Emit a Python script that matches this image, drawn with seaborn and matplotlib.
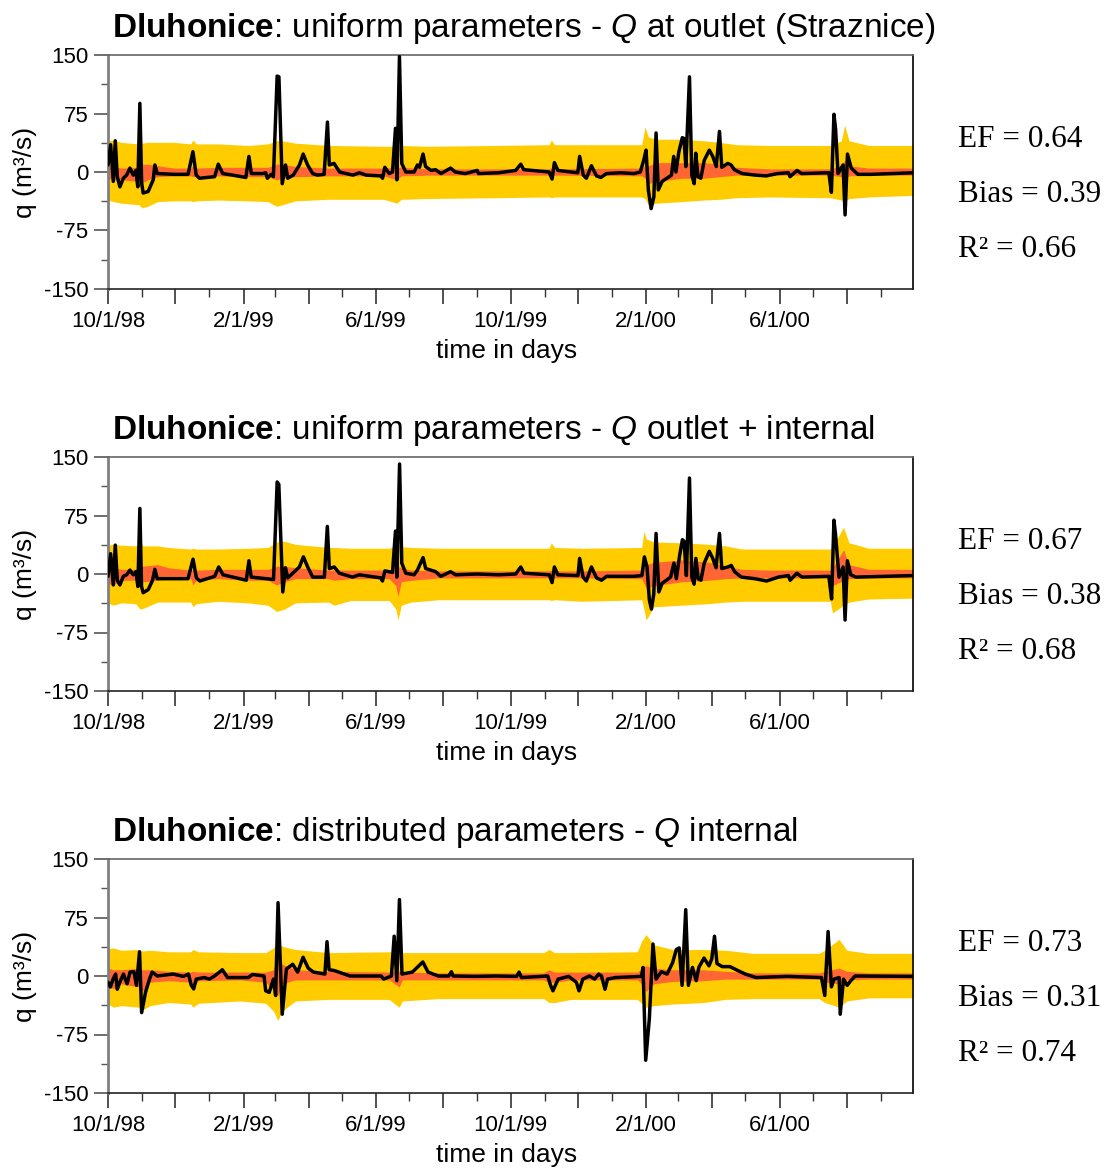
import numpy as np
import pandas as pd
import matplotlib
matplotlib.use("Agg")
import matplotlib.pyplot as plt
import matplotlib.dates as mdates
from matplotlib.ticker import MultipleLocator, FuncFormatter
import seaborn as sns

sns.set_style("ticks")
plt.rcParams["font.family"] = ["Liberation Sans", "DejaVu Sans"]
plt.rcParams["mathtext.fontset"] = "custom"
plt.rcParams["mathtext.rm"] = "Liberation Sans"
plt.rcParams["mathtext.bf"] = "Liberation Sans:bold"
plt.rcParams["mathtext.it"] = "Liberation Sans:italic"
for k in ["text.color", "axes.labelcolor", "xtick.color", "ytick.color"]:
    plt.rcParams[k] = "black"

START = pd.Timestamp("1998-10-01")
END = pd.Timestamp("2000-09-30")

# ---------------- Panel 1 -----------------
p1_title = r"$\bf{Dluhonice}$: uniform parameters - $\it{Q}$ at outlet (Straznice)"
p1_stats = ["EF = 0.64", "Bias = 0.39", "R² = 0.66"]
p1_line_day = [0, 2.4, 4.8, 6.6, 8.4, 10.8, 13.9, 16.9, 19.9, 22.9, 25.3, 27, 28.9, 30.5, 31.9, 36.4, 41, 42.5, 44.6,
               60, 72.6, 77, 80, 83, 96.7, 100, 104, 113, 125, 127.8, 130, 140, 143, 144.5, 148, 150, 153.4, 155, 158,
               161, 163, 168, 173.6, 177, 181, 185.6, 190, 196, 199, 200.7, 205, 210, 222, 228, 234, 247.4, 249, 251,
               255, 258, 260.7, 262, 264.3, 266.4, 270, 277.6, 280.6, 282.5, 285.7, 288, 293, 297, 302, 310.7, 315,
               324, 334.8, 336, 354, 369.7, 374.3, 377, 400, 402.7, 404.8, 408, 426, 427.7, 431, 433.8, 438.4, 443,
               447, 452, 465, 477, 482.7, 485.8, 487.9, 490, 492.5, 495, 497, 499, 502.6, 509, 511, 513, 515, 517.7,
               520.8, 522.3, 524, 527.3, 529.4, 531.6, 533, 535, 537.6, 540.7, 545.3, 548.4, 551.6, 554.5, 556.6, 562,
               565, 568, 575, 587, 597, 607, 617, 618.5, 624.8, 629, 653.7, 656, 658.3, 659.8, 662, 666.6, 668.4,
               670.6, 674, 680, 692, 730]
p1_line_q = [9, 35, -12, 40, -6, -19, -8, -4, 5, -4, 2, -19, 88, -14, -27, -25, -10, 9, -2,
             -3, -3, 26, -4, -8, -6, 10, -2, -4, -7, 20, -2, -2, -1, -8, -3, -6, 123, 122, -15,
             9, -8, -4, 9, 23, 9, -2, -4, -3, 64, 9, 11, 0, -4, -1, -4, -5, -8, 6,
             -2, 0, 56, -10, 148, 11, 0, 0, 9, 6, 23, 7, 2, 3, -2, 5, 0,
             -2, 2, -2, -1, 2, 10, 3, 0, -9, 12, 2, -1, 20, -4, -8, 8, -5,
             -7, -2, -1, -2, 0, 15, 28, -23, -47, -32, 50, -23, -12, -6, -4, 20, 0, 26,
             44, 43, 7, 122, -4, -15, 24, -6, -8, 15, 28, 20, 7, 52, 6, 11,
             9, 3, -2, -4, -5, -2, -1, -6, 2, -2, -1, -26, 74, 55, -2, 9, -55,
             23, 5, -3, -3, -1]
p1_band_day = [0, 5, 12, 28, 31, 36, 45, 60, 75, 77, 80, 100, 127, 145, 153, 158, 170, 200, 250, 262, 266, 290,
               350, 400, 402, 405, 484, 487, 490, 497, 520, 540, 555, 570, 600, 655, 665, 668, 672, 690, 730]
p1_yel_hi = [40, 41, 38, 36, 37, 38, 38, 38, 36, 41, 36, 36, 34, 36, 40, 40, 37, 34, 33, 33, 34, 33,
             34, 35, 41, 35, 35, 58, 45, 42, 42, 40, 38, 35, 34, 34, 40, 60, 40, 34, 34]
p1_yel_lo = [-36, -38, -40, -42, -46, -44, -38, -37, -37, -38, -37, -36, -37, -38, -44, -42, -37, -35, -35, -40, -35, -34,
             -33, -32, -33, -32, -32, -34, -42, -40, -38, -36, -35, -33, -32, -33, -36, -38, -34, -32, -30]
p1_red_hi = [8, 7, 5, 6, 10, 10, 8, 5, 5, 8, 5, 6, 6, 6, 10, 10, 7, 5, 5, 6, 6, 4,
             4, 4, 5, 4, 5, 8, 8, 12, 12, 12, 10, 6, 4, 4, 8, 15, 8, 5, 5]
p1_red_lo = [-8, -10, -10, -12, -14, -10, -6, -5, -5, -6, -5, -5, -6, -6, -10, -8, -6, -5, -5, -10, -5, -4,
             -4, -4, -5, -4, -5, -8, -15, -12, -8, -8, -6, -4, -4, -4, -6, -8, -5, -4, -4]

# ---------------- Panel 2 -----------------
p2_title = r"$\bf{Dluhonice}$: uniform parameters - $\it{Q}$ outlet + internal"
p2_stats = ["EF = 0.67", "Bias = 0.38", "R² = 0.68"]
p2_line_day = [0, 2.4, 4.8, 6.6, 8.4, 10.8, 13.9, 16.9, 19.9, 22.9, 25.3, 27.1, 28.9, 30.4, 31.9, 36.5, 40.4, 42.5,
               44.6, 72.6, 77.1, 80.2, 83.2, 96.7, 100.4, 104.3, 125.4, 127.8, 129.9, 150.1, 153.4, 154.9, 158.5,
               160.9, 163, 173.6, 177.2, 181.1, 185.6, 196.2, 198.9, 200.7, 205.2, 209.8, 221.8, 227.8, 247.4, 248.9,
               251.1, 258, 260.7, 261.9, 264.4, 266.4, 270, 277.6, 280.6, 285.7, 288.1, 297.1, 301.7, 310.7, 315.2,
               334.8, 354.4, 369.7, 374.3, 377.3, 400.2, 402.7, 404.8, 407.9, 426.2, 427.7, 430.8, 433.8, 438.4, 443,
               447.6, 452.1, 476.6, 484.2, 486.4, 488.8, 490.9, 492.8, 494.9, 497, 499.5, 502.5, 510.2, 513.2, 515.4,
               518.4, 520.9, 522.4, 524.5, 527.3, 529.4, 531.5, 533.1, 535.2, 537.7, 540.7, 545.3, 548.4, 551.4,
               554.5, 556.6, 562.1, 565.2, 568.2, 574.3, 586.5, 597.2, 607.9, 617.1, 618.6, 624.7, 629.3, 653.7,
               656.2, 658.3, 659.8, 662.9, 666.6, 668.4, 670.5, 673.6, 678.2, 705.6, 730]
p2_line_q = [-3, 26, -14, 37, -8, -14, -3, -1, 5, -1, 3, -16, 84, -16, -24, -20, -8, 6,
             -6, -6, 19, -5, -9, -3, 9, -1, -8, 17, -4, -7, 118, 115, -23,
             8, -5, 9, 22, 9, -4, -4, 61, 7, 9, 1, -4, -1, -5, -9,
             4, 2, 55, -4, 141, 14, 1, -1, 5, 21, 7, 3, -3, 3, -1,
             0, -1, 0, 9, 1, -1, -11, 9, -1, -2, 20, -4, -9, 9, -5,
             -8, -3, -3, -2, 22, 9, -33, -45, -26, 52, -23, -12, -4, 14, -6,
             24, 44, 42, -2, 123, -4, -13, 20, -6, -8, 14, 29, 20, 8,
             52, 7, 9, 11, 3, -4, -6, -9, -4, -2, -8, 1, -4, -3,
             -32, 69, 50, -4, 9, -59, 17, -1, -4, -3, -2]
p2_band_day = [0, 5, 12, 25, 29, 32, 45, 55, 75, 77, 80, 100, 127, 145, 153, 160, 170, 200, 205, 220, 255, 261,
               263, 266, 275, 300, 360, 400, 402, 405, 430, 484, 486, 488, 495, 520, 545, 560, 575, 600, 655, 657,
               667, 672, 690, 730]
p2_yel_hi = [37, 38, 37, 36, 40, 36, 36, 34, 32, 33, 32, 32, 33, 34, 41, 42, 38, 34, 34, 33, 33, 36,
             36, 35, 34, 33, 33, 33, 40, 34, 33, 34, 55, 45, 41, 40, 38, 36, 32, 32, 32, 35,
             60, 40, 33, 33]
p2_yel_lo = [-37, -40, -37, -38, -45, -44, -36, -36, -36, -42, -38, -35, -37, -40, -48, -45, -37, -36, -40, -34, -34, -45,
             -59, -40, -36, -33, -33, -33, -34, -33, -35, -33, -45, -59, -42, -40, -38, -36, -35, -35, -35, -50,
             -40, -36, -32, -31]
p2_red_hi = [8, 8, 6, 6, 10, 10, 12, 8, 5, 5, 5, 6, 6, 6, 10, 10, 8, 5, 5, 5, 5, 8,
             10, 8, 5, 4, 4, 4, 5, 4, 4, 5, 10, 12, 15, 18, 15, 10, 6, 5, 5, 8,
             31, 12, 6, 6]
p2_red_lo = [-12, -14, -8, -8, -12, -10, -8, -6, -6, -14, -8, -6, -8, -8, -14, -10, -6, -6, -8, -6, -6, -15,
             -29, -10, -8, -5, -5, -5, -6, -5, -5, -6, -12, -18, -15, -10, -8, -6, -5, -5, -5, -15,
             -8, -6, -5, -5]

# ---------------- Panel 3 -----------------
p3_title = r"$\bf{Dluhonice}$: distributed parameters - $\it{Q}$ internal"
p3_stats = ["EF = 0.73", "Bias = 0.31", "R² = 0.74"]
p3_line_day = [0, 2.2, 4.6, 6.9, 8.4, 10.7, 14, 17.3, 20, 23.5, 25.8, 28.6, 30.5, 34, 37.6, 40, 44.7, 59, 68.3, 73,
               75.4, 77.7, 80, 87.2, 92, 96.6, 103.7, 108.4, 127.3, 131, 141.5, 143, 146.2, 150, 152, 154.2, 158,
               161.8, 167.5, 172, 176.9, 181.6, 186.3, 196.7, 198.6, 200.5, 205.2, 219.4, 247.7, 250, 257, 259.5,
               261.9, 264.3, 266.6, 276, 285.5, 290.2, 299.6, 309, 311.4, 313, 332.7, 351.6, 370.5, 372.8, 375,
               398.8, 401.2, 403.5, 408.2, 417.7, 424.7, 427.1, 430.6, 436.5, 441.3, 445, 447.5, 450.7, 453, 460.2,
               483.8, 485.2, 487.6, 490.9, 494.2, 497, 501.8, 507, 512, 515.4, 518, 520.6, 523.9, 526.3, 530, 533.4,
               535.8, 540.5, 545, 547.5, 550, 552.2, 557, 564, 571.1, 578, 587.6, 616, 647, 650, 653, 656, 658.4,
               663, 664, 667, 670.3, 673.6, 677.5, 730]
p3_line_q = [-8, -14, -4, 2.5, -17, -8, 2.5, -10, 5, 5.5, -12, 31, -47, -21, -4, 5, 0, 2.5, -0.5, 2.5,
             -11.5, -16.6, -4, -2, -4, 0, 8, -2, -2, 2, 0, -19, -21, -4, -25, 94, -49,
             9, 15, 5, 24, 10, 5, 2.5, 44, 8, 7, 0, 0, -4, 0, 51,
             -6, 98, 2.5, 5, 18, 5, 0, 0, 5.5, 0, -0.5, 0, -0.5, 5, -2,
             0, -11.5, -19, -4, -0.5, -8, -19, -4, 0, -4, 2.5, 0, -17, -4, -2,
             -0.5, 11, -108, -55, 41, -4, 5.5, 2.5, 17, 34, 36, -12, 85, -12, 11, -6,
             11, 23, 13, 22, 51, 16, 12, 12, 7, 2.5, -2, -0.5, -2, -25, 57, -14, -4,
             -2, -49, -4, -12, -6, 0, -0.5]
p3_band_day = [0, 5, 12, 28, 31, 38, 55, 75, 77, 82, 120, 143, 150, 154, 158, 170, 200, 255, 264, 267, 300, 395,
               400, 405, 420, 480, 484, 488, 495, 512, 540, 560, 585, 645, 650, 663, 670, 690, 730]
p3_yel_hi = [35, 36, 33, 34, 32, 33, 31, 31, 34, 31, 30, 30, 36, 45, 38, 34, 30, 31, 31, 30, 30, 30,
             34, 30, 30, 31, 45, 53, 40, 34, 34, 33, 29, 29, 33, 47, 33, 29, 29]
p3_yel_lo = [-36, -40, -38, -40, -44, -38, -34, -36, -40, -35, -32, -35, -45, -57, -45, -32, -30, -30, -40, -32, -29, -29,
             -34, -34, -30, -30, -35, -40, -38, -36, -34, -30, -29, -29, -34, -40, -32, -28, -28]
p3_red_hi = [10, 8, 8, 10, 8, 8, 6, 5, 6, 5, 5, 5, 8, 30, 15, 8, 6, 5, 6, 5, 4, 4,
             8, 5, 5, 5, 10, 13, 10, 8, 8, 6, 4, 4, 6, 10, 6, 4, 4]
p3_red_lo = [-14, -16, -10, -14, -20, -8, -6, -8, -14, -6, -5, -8, -18, -25, -10, -5, -5, -5, -14, -5, -5, -5,
             -8, -8, -5, -5, -10, -20, -10, -7, -6, -4, -4, -4, -8, -10, -5, -4, -4]

y_ticks = [-150, -75, 0, 75, 150]
label_months = (10, 2, 6)

YELLOW = "#FFCC00"
RED = "#FF6633"

panels = [
    (p1_title, p1_stats, p1_line_day, p1_line_q, p1_band_day, p1_yel_hi, p1_yel_lo, p1_red_hi, p1_red_lo),
    (p2_title, p2_stats, p2_line_day, p2_line_q, p2_band_day, p2_yel_hi, p2_yel_lo, p2_red_hi, p2_red_lo),
    (p3_title, p3_stats, p3_line_day, p3_line_q, p3_band_day, p3_yel_hi, p3_yel_lo, p3_red_hi, p3_red_lo),
]

W, H = 1110, 1171
fig = plt.figure(figsize=(W / 100, H / 100), dpi=100)
fig.patch.set_facecolor("white")

ax_left, ax_right = 108, 913
tops = [55, 457, 859]
ax_h = 234


def fmt_date(x, pos):
    d = mdates.num2date(x)
    if d.month in label_months:
        return f"{d.month}/{d.day}/{d.strftime('%y')}"
    return ""


for (title, stats, ld, lq, bd, yh, yl, rh, rl), top in zip(panels, tops):
    ax = fig.add_axes([ax_left / W, 1 - (top + ax_h) / H, (ax_right - ax_left) / W, ax_h / H])
    bdates = START + pd.to_timedelta(bd, unit="D")
    ldates = START + pd.to_timedelta(ld, unit="D")
    ax.fill_between(bdates, yl, yh, color=YELLOW, lw=0, zorder=1)
    ax.fill_between(bdates, rl, rh, color=RED, lw=0, zorder=2)
    df = pd.DataFrame({"date": ldates, "q": lq})
    sns.lineplot(data=df, x="date", y="q", ax=ax, color="black", lw=2.5,
                 estimator=None, sort=False, zorder=3)

    ax.set_xlim(START, END)
    ax.set_ylim(-150, 150)
    ax.set_yticks(y_ticks)
    ax.set_yticklabels([str(v) for v in y_ticks])
    ax.yaxis.set_minor_locator(MultipleLocator(37.5))
    ax.xaxis.set_major_locator(mdates.MonthLocator(bymonth=[2, 4, 6, 8, 10, 12]))
    ax.xaxis.set_minor_locator(mdates.MonthLocator())
    ax.xaxis.set_major_formatter(FuncFormatter(fmt_date))

    ax.tick_params(axis="both", which="major", labelsize=16, direction="out", labelcolor="black")
    ax.tick_params(axis="y", which="major", length=10, width=1.2, color="#555555", pad=4)
    ax.tick_params(axis="y", which="minor", length=5, width=1.0, color="#555555")
    ax.tick_params(axis="x", which="major", length=11, width=1.2, color="#333333", pad=5)
    ax.tick_params(axis="x", which="minor", length=6, width=1.0, color="#333333")

    for side, col, lw in [("left", "#808080", 2.0), ("top", "#666666", 1.2),
                          ("right", "black", 1.2), ("bottom", "#222222", 1.2)]:
        ax.spines[side].set_visible(True)
        ax.spines[side].set_color(col)
        ax.spines[side].set_linewidth(lw)

    ax.set_xlabel("time in days", fontsize=19, color="black")
    ax.set_ylabel("q (m³/s)", fontsize=19, color="black")
    ax.xaxis.set_label_coords(0.495, -0.215)
    ax.yaxis.set_label_coords(-0.088, 0.5)

    ax.text(0.005, 1.078, title, transform=ax.transAxes, fontsize=24, ha="left", va="baseline",
            color="black")

    for s, yb in zip(stats, [0.608, 0.373, 0.138]):
        ax.text(1.056, yb, s, transform=ax.transAxes, fontsize=22.5, ha="left", va="baseline",
                family=["Liberation Serif", "DejaVu Serif"], color="black")

fig.savefig("out.png", dpi=100, facecolor="white")
